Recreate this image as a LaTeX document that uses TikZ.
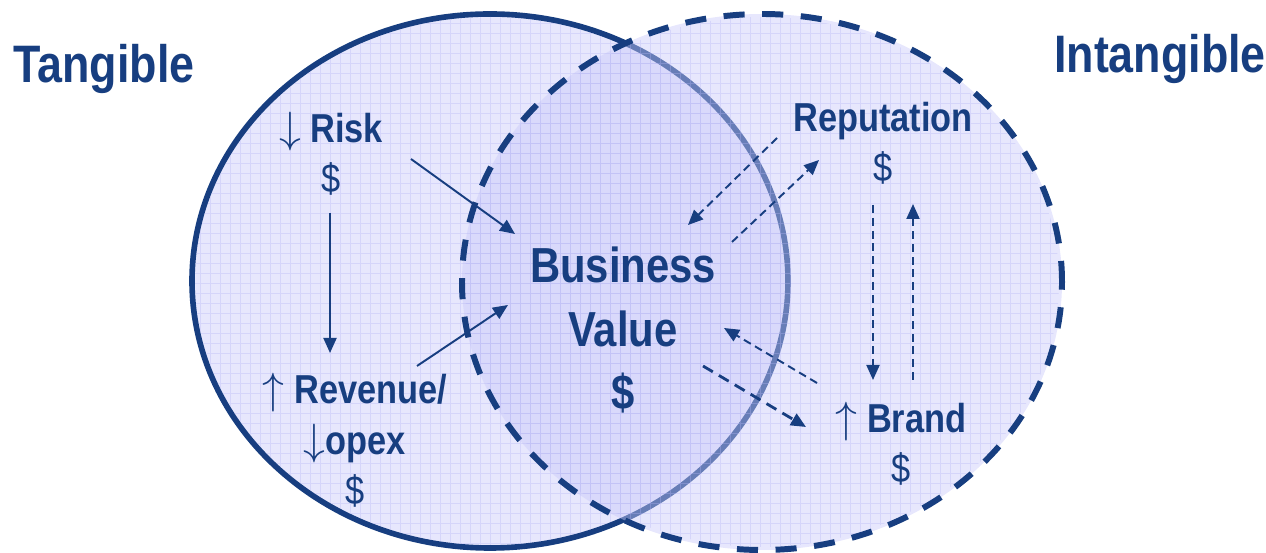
\documentclass[tikz,border=0pt]{standalone}
\usepackage{fontspec}
\setmainfont{Liberation Sans}[FakeStretch=0.85]
\usepackage{tikz}
\usetikzlibrary{arrows.meta}
\usepackage{xcolor}

\definecolor{vnavy}{RGB}{23,62,128}
\definecolor{vfill}{RGB}{231,231,253}
\definecolor{vover}{RGB}{202,202,250}
\definecolor{vgrid}{RGB}{180,180,245}

\newcommand{\dn}{{\mdseries$\downarrow$}}
\newcommand{\up}{{\mdseries$\uparrow$}}

\tikzset{
    big/.style={text=vnavy, font=\fontsize{30}{36}\selectfont\bfseries, inner sep=0pt, anchor=base},
    item/.style={text=vnavy, font=\fontsize{23}{29}\selectfont\bfseries, align=center, inner sep=0pt, anchor=base},
    core/.style={text=vnavy, font=\fontsize{28}{36.3}\selectfont\bfseries, align=center, inner sep=0pt, anchor=base},
    flow/.style={-{Triangle[length=3mm,width=2.6mm]}, vnavy, line width=1.1pt},
    link/.style={flow, dash pattern=on 4.5pt off 2.8pt},
    linkbold/.style={flow, line width=1.6pt, dash pattern=on 6.5pt off 4pt},
    gridline/.style={vgrid, line width=0.4pt, opacity=0.35}
}

\begin{document}
\begin{tikzpicture}
        \useasboundingbox (0, 0) rectangle (25.32, 11.06);

        % Tangible circle
        \fill[vfill] (9.80, 5.44) ellipse (5.96 and 5.34);
        \draw[vnavy, line width=3.2pt] (9.80, 5.44) ellipse (5.96 and 5.34);

        % Intangible circle
        \fill[vover, opacity=0.45] (15.24, 5.42) ellipse (6.00 and 5.36);

        % Grid paper
        \begin{scope}
            \clip (9.80, 5.44) ellipse (5.90 and 5.28);
            \draw[gridline, step=0.2] (3.8, 0) grid (15.8, 11);
        \end{scope}
        \begin{scope}
            \clip (15.24, 5.42) ellipse (5.94 and 5.30);
            \draw[gridline, step=0.2] (9.2, 0) grid (21.4, 11);
        \end{scope}

        \draw[vnavy, line width=3.4pt, dash pattern=on 12pt off 10pt] (15.24, 5.42) ellipse (6.00 and 5.36);

        % Titles
        \node[big] (tangible) at (2.08, 9.40) {Tangible};
        \node[big] (intangible) at (23.20, 9.60) {Intangible};

        % Tangible drivers (placed at the baseline of their last line)
        \node[item] (risk) at (6.62, 7.20) {\dn{} Risk\\{\mdseries\$}};
        \node[item] (revenue) at (7.10, 0.96) {\up{} Revenue/\\\dn{}opex\\{\mdseries\$}};

        % Middle
        \node[core] (bv) at (12.46, 2.86) {Business\\Value\\\$};

        % Intangible drivers
        \node[item] (reputation) at (17.66, 7.42) {Reputation\\{\mdseries\$}};
        \node[item] (brand) at (18.02, 1.40) {\up{} Brand\\{\mdseries\$}};

        % Arrow ends
        \coordinate (risk-out) at (8.22, 7.88);
        \coordinate (bv-risk) at (10.30, 6.38);
        \coordinate (risk-down) at (6.60, 6.80);
        \coordinate (revenue-in) at (6.60, 4.00);
        \coordinate (revenue-out) at (8.34, 3.74);
        \coordinate (bv-revenue) at (10.16, 4.96);
        \coordinate (rep-out) at (15.54, 8.30);
        \coordinate (bv-rep) at (13.76, 6.56);
        \coordinate (bv-to-rep) at (14.64, 6.22);
        \coordinate (rep-in) at (16.38, 7.86);
        \coordinate (rep-down) at (17.46, 6.96);
        \coordinate (brand-in) at (17.46, 3.46);
        \coordinate (brand-up) at (18.26, 3.46);
        \coordinate (rep-up) at (18.26, 6.98);
        \coordinate (brand-out) at (16.34, 3.40);
        \coordinate (bv-brand) at (14.48, 4.50);
        \coordinate (bv-to-brand) at (14.06, 3.74);
        \coordinate (brand-left) at (16.12, 2.52);

        % Tangible arrows
        \draw[flow] (risk-out) -- (bv-risk);
        \draw[flow] (risk-down) -- (revenue-in);
        \draw[flow] (revenue-out) -- (bv-revenue);

        % Intangible arrows
        \draw[link] (rep-out) -- (bv-rep);
        \draw[link] (bv-to-rep) -- (rep-in);
        \draw[link] (rep-down) -- (brand-in);
        \draw[link] (brand-up) -- (rep-up);
        \draw[link] (brand-out) -- (bv-brand);
        \draw[linkbold] (bv-to-brand) -- (brand-left);

    \end{tikzpicture}
\end{document}
